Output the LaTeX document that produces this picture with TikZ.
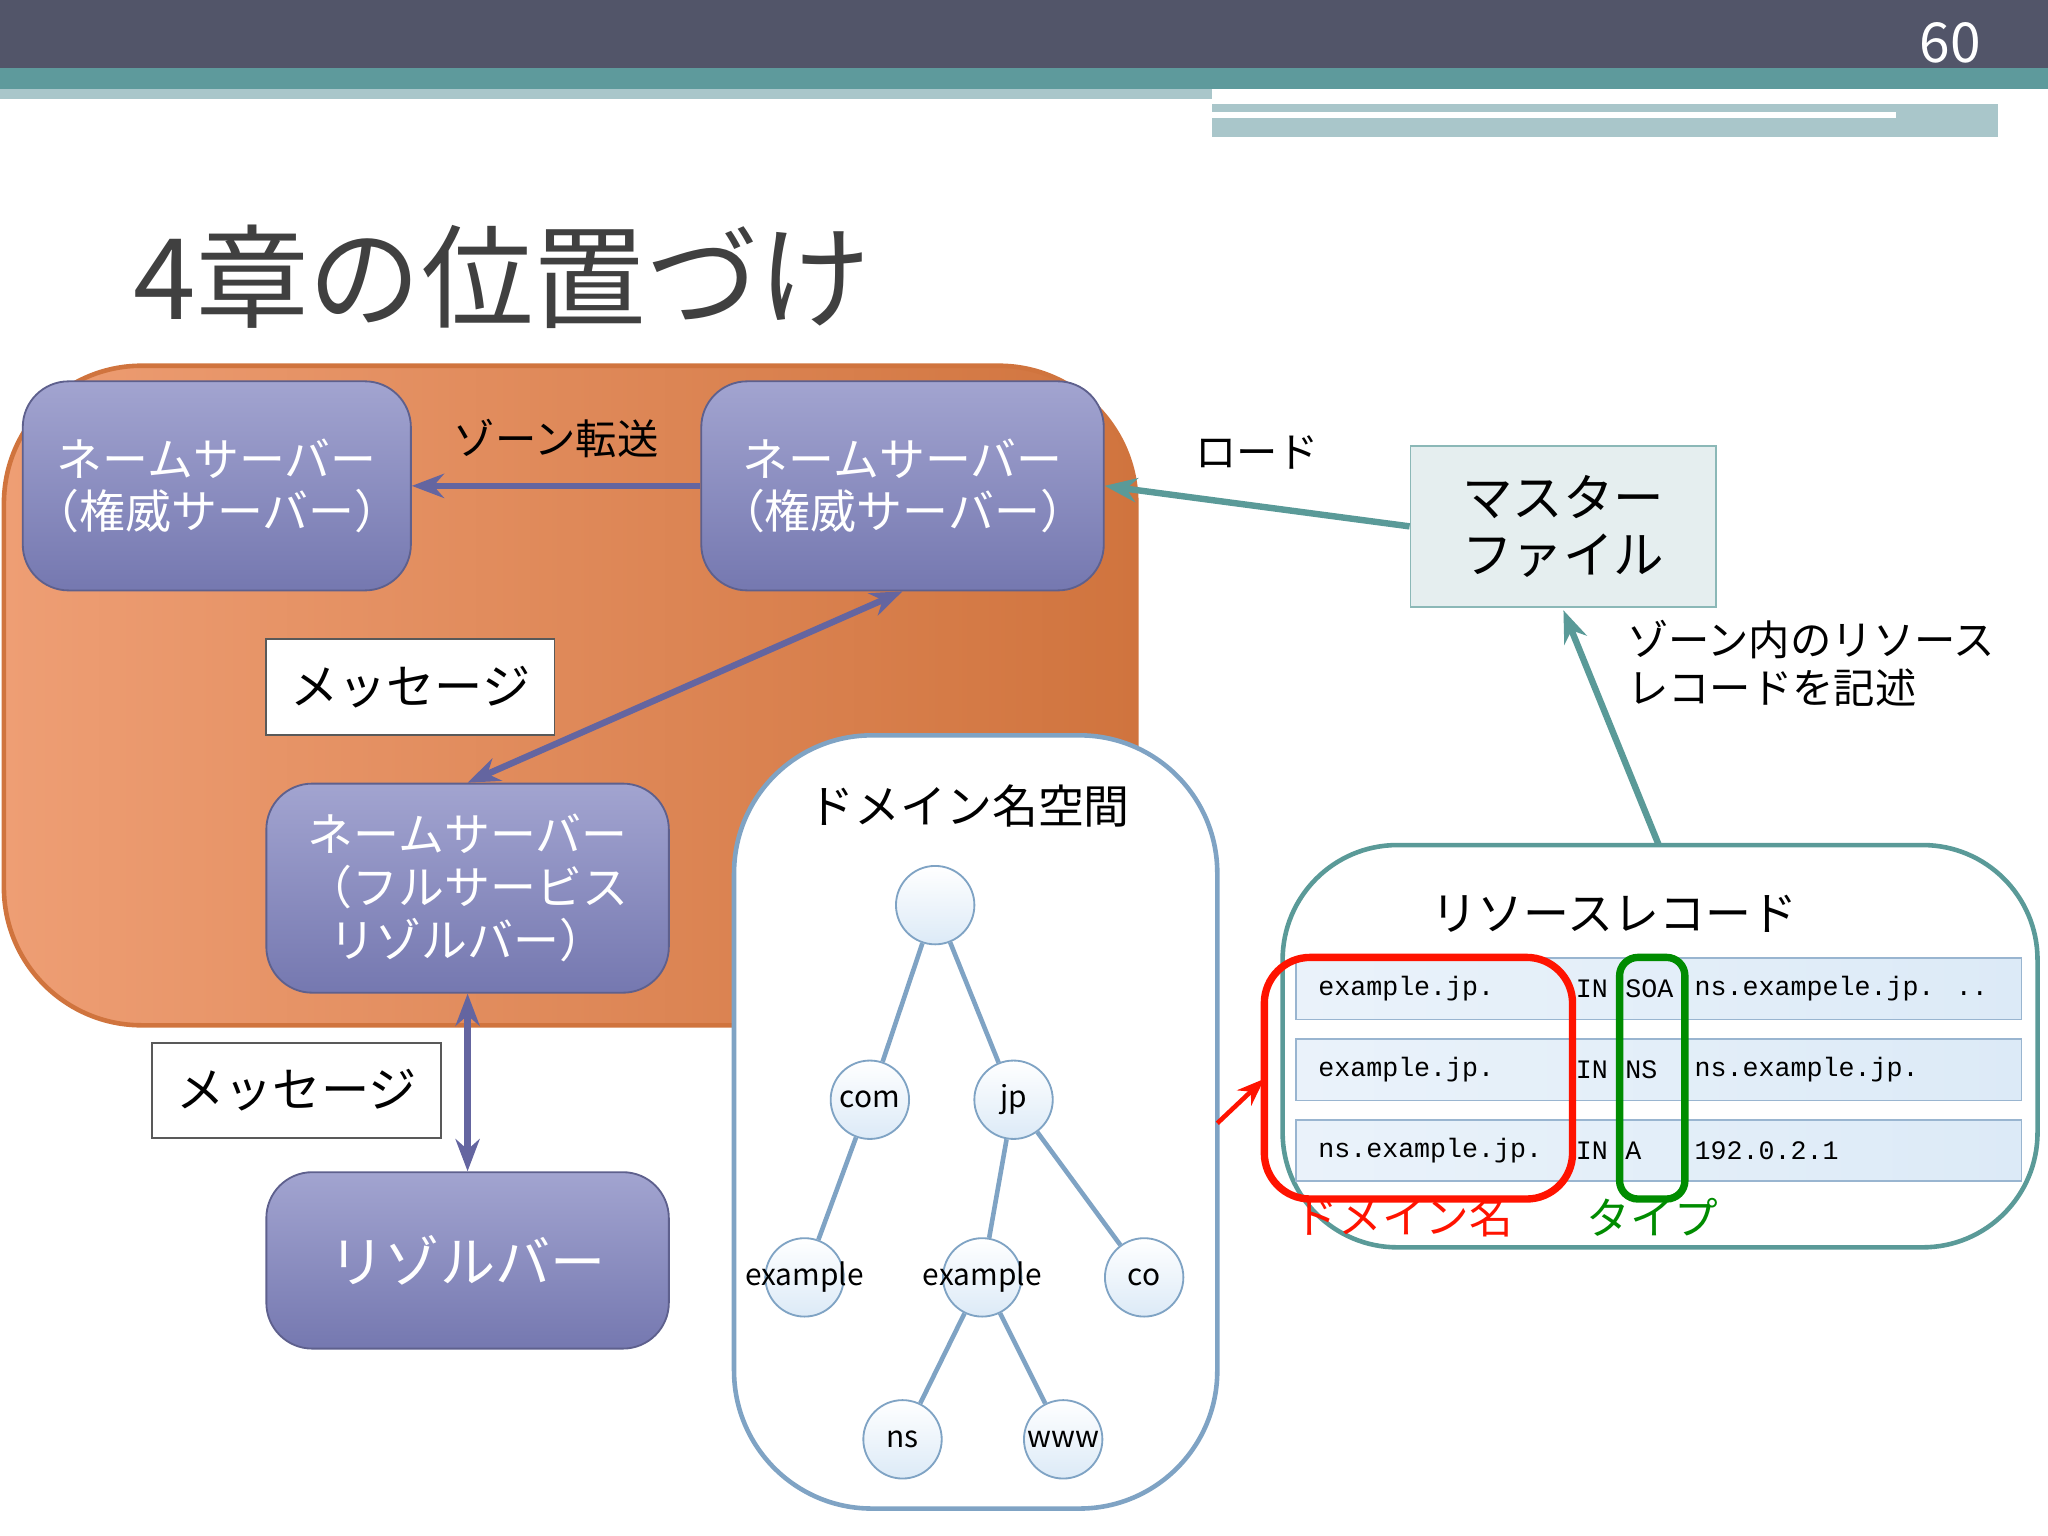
\documentclass[tikz,border=0pt]{standalone}
\usepackage{fontspec}
\setmainfont{Noto Sans CJK JP}
\newfontfamily\recfont{Liberation Mono}
\usetikzlibrary{arrows.meta}
\definecolor{barDark}{HTML}{525569}
\definecolor{barTeal}{HTML}{5E9A9C}
\definecolor{barLight}{HTML}{A9C6CA}
\definecolor{nsPurple}{HTML}{7578B0}
\definecolor{nsLight}{HTML}{A2A4D0}
\definecolor{orgLight}{HTML}{EE9E74}
\definecolor{orgDark}{HTML}{D0743E}
\definecolor{tealLine}{HTML}{5A9A98}
\definecolor{treeLine}{HTML}{7FA3C4}
\definecolor{treeFill}{HTML}{DCEAF7}
\definecolor{arrowPurple}{HTML}{6465A0}
\tikzset{
  ns/.style={draw=nsPurple!80!black, rounded corners=10pt, top color=nsLight, bottom color=nsPurple,
    text=white, align=center, font=\fontsize{10}{11.5}\selectfont, inner sep=0pt},
  msg/.style={draw=gray!70!black, fill=white, font=\fontsize{10.5}{12}\selectfont, inner sep=0pt},
  tn/.style={circle, draw=treeLine, top color=white, bottom color=treeFill, minimum size=0.6cm, inner sep=0pt,
    label={[font=\fontsize{6.5}{7}\selectfont, inner sep=0pt]center:#1}},
  rec/.style={draw=treeLine!80, left color=treeFill!60, right color=treeFill, minimum width=5.55cm, minimum height=0.47cm},
  rtxt/.style={anchor=west, font=\recfont\fontsize{5.8}{6}\selectfont, inner sep=0pt},
  pu/.style={draw=arrowPurple, line width=1.4pt, -{Stealth[length=7pt]}},
  te/.style={draw=tealLine, line width=1.4pt, -{Stealth[length=7pt]}},
}
\begin{document}
\begin{tikzpicture}[x=0.01cm,y=-0.01cm]
\useasboundingbox (0,0) rectangle (1568,1176);
% header bars
\fill[barDark] (0,0) rectangle (1568,52);
\fill[barTeal] (0,52) rectangle (1568,68);
\fill[barLight] (0,68) rectangle (928,76);
\fill[barLight] (928,80) rectangle (1530,105);
\fill[white] (928,86) rectangle (1452,90);
\node[text=white, font=\fontsize{12}{12}\selectfont] (pagenum) at (1493,33) {60};
% title
\node[anchor=west, text=black!75, font=\fontsize{24.5}{28}\selectfont] (title) at (90,212) {4章の位置づけ};
% orange area
\draw[draw=orgDark, line width=1pt, rounded corners=30pt, left color=orgLight, right color=orgDark] (3,280) rectangle (870,785);
% name servers
\node[ns, minimum width=2.97cm, minimum height=1.6cm] (ns1) at (166,372) {ネームサーバー\\（権威サーバー）};
\node[ns, minimum width=3.08cm, minimum height=1.6cm] (ns2) at (691,372) {ネームサーバー\\（権威サーバー）};
\node[ns, minimum width=3.08cm, minimum height=1.6cm] (ns3) at (358,680) {ネームサーバー\\（フルサービス\\リゾルバー）};
\node[ns, minimum width=3.08cm, minimum height=1.35cm, font=\fontsize{12}{14}\selectfont] (res) at (358,965) {リゾルバー};
\node[msg, minimum width=2.21cm, minimum height=0.73cm] (msg1) at (314,526) {メッセージ};
\node[msg, minimum width=2.21cm, minimum height=0.73cm] (msg2) at (227,835) {メッセージ};
\draw[pu] (ns2.west) -- (ns1.east) node[midway, above=2pt, text=black, font=\fontsize{9}{10}\selectfont] {ゾーン転送};
\draw[pu, {Stealth[length=7pt]}-{Stealth[length=7pt]}] (ns3.north) -- (ns2.south);
\draw[pu, {Stealth[length=7pt]}-{Stealth[length=7pt]}] (ns3.south) -- (res.north);
% master file
\node[draw=tealLine!70, fill=barLight!30, minimum width=2.34cm, minimum height=1.23cm, align=center, font=\fontsize{11}{12.5}\selectfont] (master) at (1197,403) {マスター\\ファイル};
\draw[te] (master.west) -- (ns2.east) node[midway, above=4pt, font=\fontsize{9}{10}\selectfont] {ロード};
% domain name space
\draw[draw=treeLine, line width=1pt, rounded corners=30pt, fill=white] (562,563) rectangle (932,1155);
\node[font=\fontsize{10}{12}\selectfont] (dtitle) at (742,617) {ドメイン名空間};
\node[tn={}] (root) at (716,693) {};
\node[tn=com] (com) at (666,842) {};
\node[tn=jp] (jp) at (776,842) {};
\node[tn=example] (ex1) at (616,978) {};
\node[tn=example] (ex2) at (752,978) {};
\node[tn=co] (co) at (876,978) {};
\node[tn=ns] (ns) at (691,1102) {};
\node[tn=www] (www) at (814,1102) {};
\foreach \a/\b in {root/com, root/jp, com/ex1, jp/ex2, jp/co, ex2/ns, ex2/www}
  \draw[treeLine, line width=1pt] (\a) -- (\b);
% resource records
\draw[draw=tealLine, line width=1pt, rounded corners=25pt, fill=white] (982,647) rectangle (1560,955);
\node[font=\fontsize{10}{12}\selectfont] (rtitle) at (1236,700) {リソースレコード};
\node[rec] (r1) at (1270,757) {};
\node[rec] (r2) at (1270,819) {};
\node[rec] (r3) at (1270,881) {};
\foreach \r/\n/\t/\d in {r1/example.jp./SOA/{ns.exampele.jp. ..}, r2/example.jp./NS/{ns.example.jp.}, r3/ns.example.jp./A/{192.0.2.1}}{
  \node[rtxt] at ([xshift=0.17cm]\r.west) {\n};
  \node[rtxt] at ([xshift=2.14cm]\r.west) {IN};
  \node[rtxt] at ([xshift=2.52cm]\r.west) {\t};
  \node[rtxt] at ([xshift=3.05cm]\r.west) {\d};
}
\draw[red!85!orange, line width=1.6pt, rounded corners=10pt] (968,733) rectangle (1204,918);
\coordinate (redbox) at (968,826);
\draw[green!55!black, line width=1.6pt, rounded corners=4pt] (1240,733) rectangle (1290,918);
\node[text=red!85!orange, font=\fontsize{9.5}{10}\selectfont] (dlabel) at (1075,932) {ドメイン名};
\node[text=green!55!black, font=\fontsize{9.5}{10}\selectfont] (tlabel) at (1265,932) {タイプ};
\coordinate (redtail) at (932,860);
\draw[red!85!orange, line width=1pt, -{Stealth[length=6pt]}] (redtail) -- (redbox);
% describe arrow
\coordinate (rrtop) at (1270,647);
\draw[te] (rrtop) -- ([yshift=-0.02cm]master.south);
\node[anchor=north west, align=left, font=\fontsize{9}{10.5}\selectfont, inner sep=0pt] (desc) at (1245,474) {ゾーン内のリソース\\レコードを記述};
\end{tikzpicture}
\end{document}
